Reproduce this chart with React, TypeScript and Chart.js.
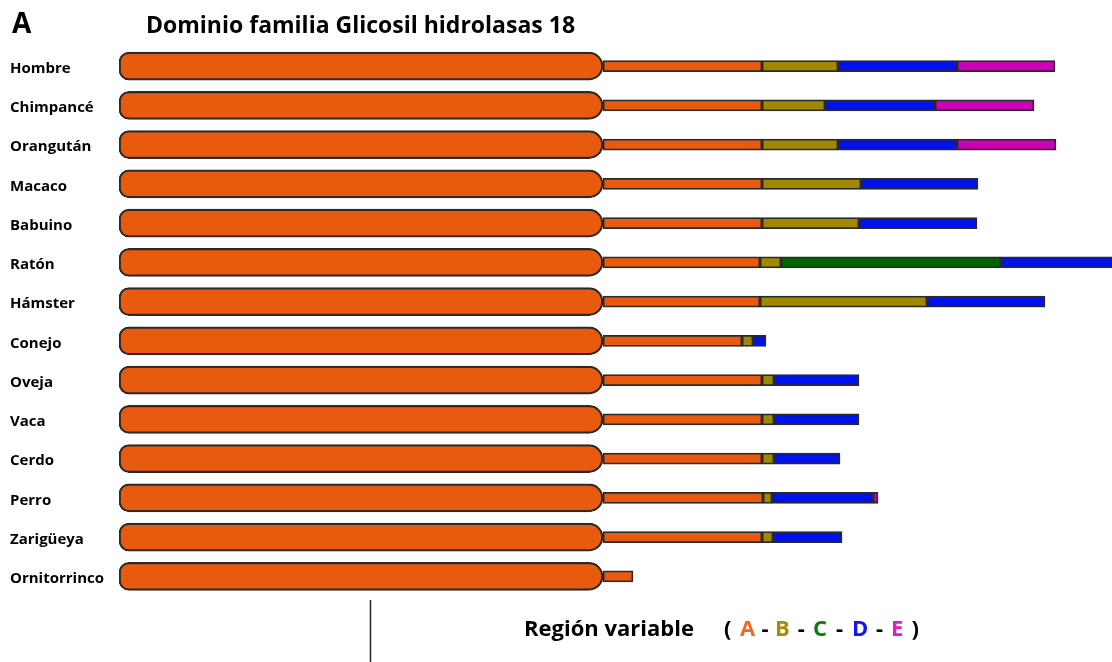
import React, { useEffect, useRef } from "react";
import { Chart, registerables } from "chart.js";

Chart.register(...registerables);

// ---- Data (lengths in drawing units) ----
const species = [
  "Hombre",
  "Chimpancé",
  "Orangután",
  "Macaco",
  "Babuino",
  "Ratón",
  "Hámster",
  "Conejo",
  "Oveja",
  "Vaca",
  "Cerdo",
  "Perro",
  "Zarigüeya",
  "Ornitorrinco",
];
const domainLength = [484, 484, 484, 484, 484, 484, 484, 484, 484, 484, 484, 484, 484, 484];
const regionA = [159, 159, 159, 159, 159, 157, 157, 139, 159, 159, 159, 160, 159, 30];
const regionB = [76, 63, 76, 99, 97, 21, 167, 11, 12, 12, 12, 9, 11, 0];
const regionC = [0, 0, 0, 0, 0, 220, 0, 0, 0, 0, 0, 0, 0, 0];
const regionD = [119, 110, 119, 117, 118, 120, 118, 13, 85, 85, 66, 101, 69, 0];
const regionE = [98, 99, 99, 0, 0, 0, 0, 0, 0, 0, 0, 5, 0, 0];
const regionNames = ["A", "B", "C", "D", "E"];
const axisMax = 993;

const titleText = "Dominio familia Glicosil hidrolasas 18";
const panelLetter = "A";
const legendLabel = "Región variable";

// ---- Styles ----
const ORANGE = "#E85B0E";
const regionColors = ["#E85B0E", "#A08800", "#006400", "#0012EC", "#CC00B4"];
const legendColors = ["#F06A1E", "#A88E08", "#0C7A0C", "#1414F4", "#E01CC8"];
const EDGE = "#2a2a2a";
const FONT = '"Open Sans", "Noto Sans", sans-serif';

function buildSegments() {
  const regions = [regionA, regionB, regionC, regionD, regionE];
  const out: (number[] | null)[][] = regions.map(() => []);
  species.forEach((_, i) => {
    let start = domainLength[i];
    regions.forEach((arr, r) => {
      const len = arr[i];
      out[r].push(len > 0 ? [start, start + len] : null);
      start += len;
    });
  });
  return out;
}

const overlayPlugin = {
  id: "overlayText",
  afterDraw(chart: any) {
    const ctx = chart.ctx as CanvasRenderingContext2D;
    ctx.save();
    ctx.textAlign = "left";
    ctx.textBaseline = "alphabetic";
    ctx.fillStyle = "#000";
    ctx.font = `bold 28px ${FONT}`;
    ctx.fillText(panelLetter, 12, 33);
    ctx.font = `bold 23px ${FONT}`;
    ctx.fillText(titleText, 146, 33);

    // vertical marker line
    ctx.strokeStyle = "#222";
    ctx.lineWidth = 1.5;
    ctx.beginPath();
    ctx.moveTo(370.5, 600);
    ctx.lineTo(370.5, 662);
    ctx.stroke();

    // legend
    ctx.font = `bold 22px ${FONT}`;
    ctx.fillStyle = "#000";
    ctx.fillText(legendLabel, 524, 636);
    ctx.fillText("(", 724, 636);
    const letterX = [740, 775, 813, 852, 891];
    regionNames.forEach((name, i) => {
      ctx.fillStyle = legendColors[i];
      ctx.fillText(name, letterX[i], 636);
      if (i < regionNames.length - 1) {
        const end = letterX[i] + ctx.measureText(name).width;
        const dashW = ctx.measureText("-").width;
        ctx.fillStyle = "#000";
        ctx.fillText("-", (end + letterX[i + 1]) / 2 - dashW / 2, 636);
      }
    });
    ctx.fillStyle = "#000";
    const pw = ctx.measureText(")").width;
    ctx.fillText(")", 919 - pw, 636);
    ctx.restore();
  },
};

export default function App() {
  const canvasRef = useRef<HTMLCanvasElement | null>(null);

  useEffect(() => {
    if (!canvasRef.current) return;
    const segs = buildSegments();
    const datasets: any[] = [
      {
        label: "Dominio",
        data: domainLength.map((d) => [0, d]),
        backgroundColor: ORANGE,
        borderColor: EDGE,
        borderWidth: 2.2,
        borderSkipped: false,
        borderRadius: { topLeft: 10, bottomLeft: 10, topRight: 14, bottomRight: 14 },
        barThickness: 28,
        grouped: false,
      },
      ...regionNames.map((name, r) => ({
        label: "Región " + name,
        data: segs[r],
        backgroundColor: regionColors[r],
        borderColor: EDGE,
        borderWidth: 1.8,
        borderSkipped: false,
        barThickness: 11,
        grouped: false,
      })),
    ];

    const chart = new Chart(canvasRef.current, {
      type: "bar",
      data: { labels: species, datasets },
      options: {
        indexAxis: "y",
        animation: false,
        responsive: false,
        devicePixelRatio: 1,
        layout: { padding: { left: 10, top: 46.5, bottom: 66, right: 0 } },
        plugins: { legend: { display: false }, tooltip: { enabled: false }, title: { display: false } },
        scales: {
          x: { type: "linear", min: 0, max: axisMax, display: false },
          y: {
            type: "category",
            offset: true,
            grid: { display: false },
            border: { display: false },
            afterFit: (scale: any) => {
              scale.width = 109;
            },
            ticks: {
              crossAlign: "far",
              padding: 0,
              labelOffset: 2.5,
              color: "#000",
              font: { family: FONT, weight: "bold", size: 15 },
            },
          },
        },
      } as any,
      plugins: [overlayPlugin],
    });
    return () => chart.destroy();
  }, []);

  return (
    <div style={{ position: "absolute", left: 0, top: 0, width: 1112, height: 662, background: "#fff" }}>
      <canvas ref={canvasRef} width={1112} height={662} style={{ display: "block" }} />
    </div>
  );
}
